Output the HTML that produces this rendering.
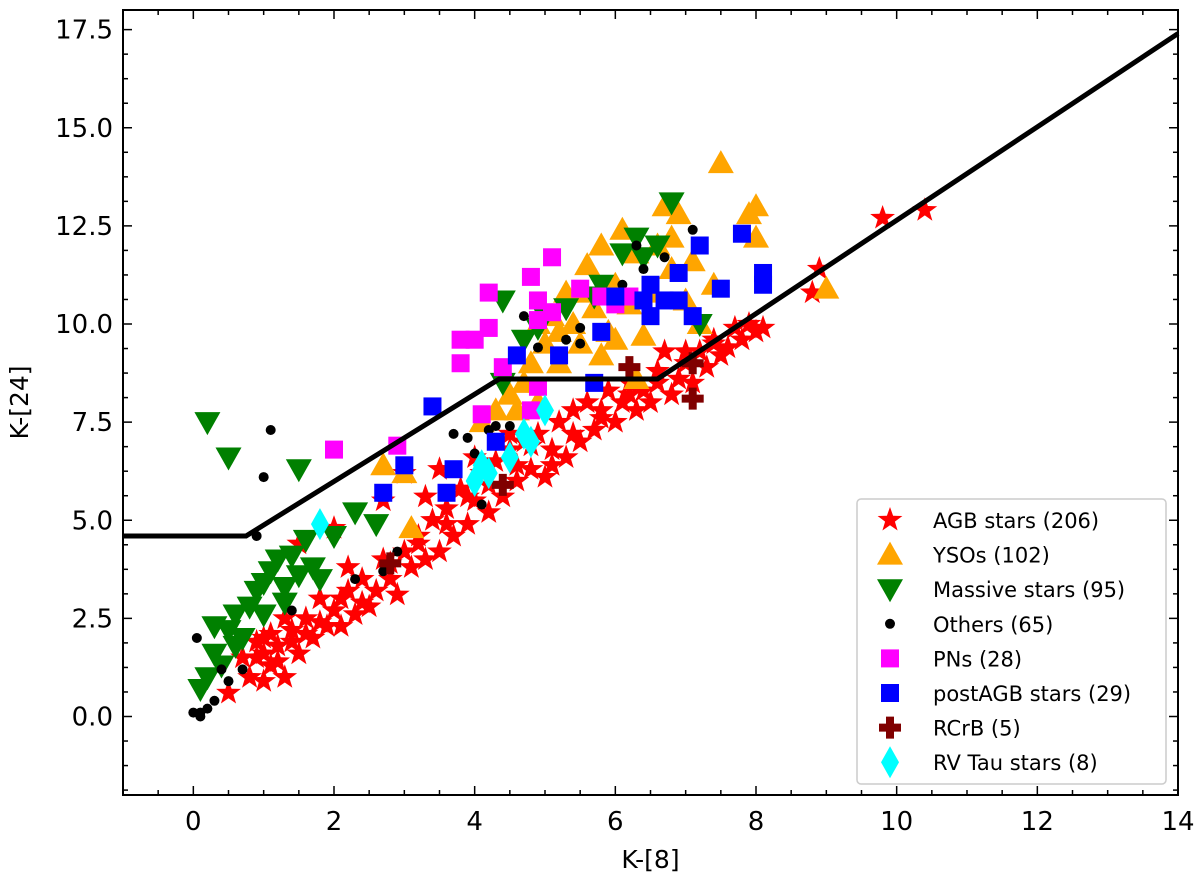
<!DOCTYPE html>
<html><head><meta charset="utf-8"><style>
html,body{margin:0;padding:0;background:#fff;}
svg{display:block;font-family:"DejaVu Sans","Liberation Sans",sans-serif;}
</style></head><body>
<svg id="chart" width="1200" height="878" viewBox="0 0 1200 878">
<g id="marks"></g>
<g id="axes"></g>
</svg>
<script>
const agbX=[0.5,0.8,0.9,1.0,1.1,1.2,1.3,1.4,1.5,1.6,1.7,1.8,1.9,2.0,2.1,2.2,2.3,2.4,2.5,2.6,2.7,2.8,2.9,3.0,3.1,3.2,3.3,3.4,3.5,3.6,3.7,3.8,3.9,4.0,4.1,4.2,4.3,4.4,4.5,4.6,4.7,4.8,4.9,5.0,5.1,5.2,5.3,5.4,5.5,5.6,5.7,5.8,5.9,6.0,6.1,6.2,6.3,6.4,6.5,6.6,6.7,6.8,6.9,7.0,7.1,7.2,7.3,7.4,7.5,7.6,7.7,7.8,7.9,8.0,8.1,8.8,8.9,9.8,10.4,1.5,2.0,2.7,3.0,3.5,2.2,0.7,1.0,1.0,1.1,1.2,1.3,1.4,0.9,1.6,1.8,2.1,2.4,2.8,3.2,3.6,3.9,4.2,4.6,4.8,5.1,5.4,5.8,6.2,6.6,7.0,7.4,3.3,4.0,4.5];
const agbY=[0.6,1.0,1.5,2.0,1.3,1.8,1.0,2.2,1.6,2.5,2.0,3.0,2.3,2.7,2.3,3.2,2.6,3.5,2.8,3.2,4.0,3.5,3.1,4.2,3.8,4.6,4.0,5.0,4.2,5.3,4.6,5.8,4.9,5.5,6.2,5.2,6.5,5.6,6.8,6.0,7.0,6.3,7.2,6.1,6.8,7.5,6.6,7.8,7.0,8.0,7.3,7.6,8.3,7.5,8.0,8.5,7.8,8.3,8.0,8.5,9.3,8.2,8.6,9.0,8.5,9.3,8.9,9.6,9.2,9.4,9.9,9.6,10.0,9.8,9.9,10.8,11.4,12.7,12.9,4.4,4.8,5.5,6.2,6.3,3.8,1.5,0.9,1.6,2.1,1.4,2.5,1.9,1.9,2.1,2.4,3.0,2.9,3.9,4.4,4.9,5.6,5.9,6.4,6.9,6.4,7.2,7.8,8.2,8.8,9.3,9.5,5.6,6.6,7.2];
const ysoX=[2.7,3.0,3.1,4.1,4.3,4.5,4.6,4.7,4.8,4.9,5.0,5.1,5.2,5.3,5.4,5.5,5.6,5.7,5.8,5.9,6.0,6.1,6.2,6.3,6.4,6.5,6.6,6.7,6.8,6.9,7.0,7.1,7.2,7.4,7.5,7.9,8.0,8.0,9.0,6.8,5.5,4.9,5.8,6.3,6.0,5.2];
const ysoY=[6.4,6.2,4.8,7.5,7.8,8.2,7.8,8.5,9.0,10.0,9.5,10.2,9.8,10.8,10.0,9.5,11.5,10.4,12.0,9.8,11.0,12.4,10.5,11.8,9.7,10.8,12.0,13.0,11.4,12.8,10.6,11.6,10.0,11.0,14.1,12.8,12.2,13.0,10.9,12.2,10.8,8.0,9.2,8.6,9.6,9.0];
const msX=[0.2,0.5,1.5,0.1,0.2,0.3,0.4,0.5,0.6,0.7,0.8,0.9,1.0,1.1,1.2,1.3,1.4,1.5,1.6,1.7,1.8,2.0,2.3,2.6,4.4,4.7,4.9,5.0,5.3,5.8,6.1,6.3,6.4,6.6,6.8,7.2,5.7,4.4,0.3,0.6,1.0,1.3];
const msY=[7.5,6.6,6.3,0.7,1.0,1.6,1.3,2.2,2.6,2.0,2.8,3.2,2.6,3.7,4.0,3.3,4.1,3.6,4.5,3.8,3.5,4.6,5.2,4.9,10.6,9.6,9.9,10.2,10.4,11.0,11.8,12.2,11.7,12.0,13.1,10.0,10.7,8.5,2.3,1.8,3.4,2.9];
const othX=[0,0.05,0.1,0.2,0.3,0.4,0.5,0.7,0.9,1.0,1.1,1.4,2.3,2.7,3.7,3.9,4.0,4.1,4.2,4.3,4.5,4.7,4.9,5.3,5.5,5.5,6.1,6.3,6.4,6.7,7.1,2.9,0.1];
const othY=[0.1,2.0,0.0,0.2,0.4,1.2,0.9,1.2,4.6,6.1,7.3,2.7,3.5,3.7,7.2,7.1,6.7,5.4,7.3,7.4,7.4,10.2,9.4,9.6,9.9,9.5,11.0,12.0,11.4,11.7,12.4,4.2,0.1];
const pnX=[2.0,2.9,3.8,3.8,4.0,4.1,4.2,4.2,4.4,4.8,4.9,4.9,4.9,5.1,5.1,5.5,5.8,6.0,6.2,4.8];
const pnY=[6.8,6.9,9.0,9.6,9.6,7.7,10.8,9.9,8.9,11.2,10.6,10.1,8.4,11.7,10.3,10.9,10.7,10.5,10.7,7.8];
const paX=[2.7,3.0,3.4,3.6,3.7,4.3,4.6,5.2,5.7,5.8,6.0,6.4,6.5,6.5,6.9,6.9,7.1,7.2,7.5,7.8,8.1,8.1,6.7];
const paY=[5.7,6.4,7.9,5.7,6.3,7.0,9.2,9.2,8.5,9.8,10.7,10.6,11.0,10.2,11.3,10.6,10.2,12.0,10.9,12.3,11.3,11.0,10.6];
const rcX=[2.8,4.4,6.2,7.1,7.1];
const rcY=[3.9,5.9,8.9,9.0,8.1];
const rvX=[1.8,4.0,4.2,4.5,4.7,4.8,5.0,4.1];
const rvY=[4.9,6.0,6.2,6.6,7.2,7.0,7.8,6.4];
const lineX=[-1,0.75,4.35,6.6,14];
const lineY=[4.6,4.6,8.6,8.6,17.4];
const xTicks=[0,2,4,6,8,10,12,14];
const yTicks=[0.0,2.5,5.0,7.5,10.0,12.5,15.0,17.5];

const L=123,R=1178,T=10,B=795,XMIN=-1,XMAX=14,YMIN=-2,YMAX=18;
const sx=v=>L+(v-XMIN)/(XMAX-XMIN)*(R-L);
const sy=v=>B-(v-YMIN)/(YMAX-YMIN)*(B-T);
const NS="http://www.w3.org/2000/svg";
const marks=document.getElementById('marks');
const axes=document.getElementById('axes');
function mk(tag,attrs,parent){const e=document.createElementNS(NS,tag);for(const k in attrs)e.setAttribute(k,attrs[k]);parent.appendChild(e);return e;}
function starPts(cx,cy,r){let p=[];for(let i=0;i<10;i++){const a=-Math.PI/2+i*Math.PI/5;const rr=i%2?r*0.4:r;p.push((cx+rr*Math.cos(a)).toFixed(1)+','+(cy+rr*Math.sin(a)).toFixed(1));}return p.join(' ');}
function shape(kind,cx,cy,parent){
  let e;
  if(kind==='star')e=mk('polygon',{points:starPts(cx,cy,13),fill:'#ff0000'},parent);
  else if(kind==='up')e=mk('polygon',{points:`${cx},${cy-13} ${cx+13},${cy+10} ${cx-13},${cy+10}`,fill:'#ffa500'},parent);
  else if(kind==='down')e=mk('polygon',{points:`${cx},${cy+13} ${cx+13},${cy-10} ${cx-13},${cy-10}`,fill:'#008000'},parent);
  else if(kind==='dot')e=mk('circle',{cx:cx,cy:cy,r:5,fill:'#000'},parent);
  else if(kind==='pn')e=mk('rect',{x:cx-9,y:cy-9,width:18,height:18,fill:'#ff00ff'},parent);
  else if(kind==='pa')e=mk('rect',{x:cx-9,y:cy-9,width:18,height:18,fill:'#0000ff'},parent);
  else if(kind==='plus')e=mk('path',{d:`M${cx-4},${cy-11}h8v7h7v8h-7v7h-8v-7h-7v-8h7z`,fill:'#800000'},parent);
  else if(kind==='dia')e=mk('polygon',{points:`${cx},${cy-16} ${cx+9},${cy} ${cx},${cy+16} ${cx-9},${cy}`,fill:'#00ffff'},parent);
  return e;
}
const series=[['star',agbX,agbY,'agb'],['up',ysoX,ysoY,'yso'],['down',msX,msY,'massive'],['dot',othX,othY,'others'],['pn',pnX,pnY,'pn'],['pa',paX,paY,'postagb'],['plus',rcX,rcY,'rcrb'],['dia',rvX,rvY,'rvtau']];
series.forEach(([k,xs,ys,n])=>{
  const g=mk('g',{},marks);
  
  
  xs.forEach((x,i)=>{
    const e=shape(k,sx(x),sy(ys[i]),g);
    
    
  });
});
const bl=mk('polyline',{points:lineX.map((x,i)=>sx(x)+','+sy(lineY[i])).join(' '),fill:'none',stroke:'#000','stroke-width':5},marks);


const fr=mk('rect',{x:L,y:T,width:R-L,height:B-T,fill:'none',stroke:'#000','stroke-width':2},axes);


for(let v=-1;v<=14.001;v+=0.5){
  const major=Math.abs(v-Math.round(v))<1e-6&&Math.round(v)%2===0;
  const len=major?9:5;const x=sx(v);
  mk('line',{x1:x,y1:B,x2:x,y2:B-len,stroke:'#000','stroke-width':1.5},axes);
  mk('line',{x1:x,y1:T,x2:x,y2:T+len,stroke:'#000','stroke-width':1.5},axes);
}
xTicks.forEach(v=>{const t=mk('text',{x:sx(v),y:B+35,'text-anchor':'middle','font-size':26},axes);t.textContent=v;

});
for(let v=-1.875;v<=18.001;v+=0.625){
  const major=Math.abs(v/2.5-Math.round(v/2.5))<1e-6;
  const len=major?9:5;const y=sy(v);
  mk('line',{x1:L,y1:y,x2:L+len,y2:y,stroke:'#000','stroke-width':1.5},axes);
  mk('line',{x1:R,y1:y,x2:R-len,y2:y,stroke:'#000','stroke-width':1.5},axes);
}
yTicks.forEach(v=>{const t=mk('text',{x:L-10,y:sy(v)+9,'text-anchor':'end','font-size':26},axes);t.textContent=v.toFixed(1);

});
const xt=mk('text',{x:(L+R)/2,y:868,'text-anchor':'middle','font-size':25},axes);xt.textContent='K-[8]';


const yt=mk('text',{x:0,y:0,'text-anchor':'middle','font-size':25,transform:`translate(28,${(T+B)/2}) rotate(-90)`},axes);yt.textContent='K-[24]';


const leg=mk('g',{},axes);


mk('rect',{x:857,y:499,width:309,height:285,rx:4,fill:'#fff','fill-opacity':0.85,stroke:'#ccc','stroke-width':1.5},leg);
const labels=['AGB stars (206)','YSOs (102)','Massive stars (95)','Others (65)','PNs (28)','postAGB stars (29)','RCrB (5)','RV Tau stars (8)'];
const kinds=['star','up','down','dot','pn','pa','plus','dia'];
labels.forEach((s,i)=>{
  const y=520+i*34.6;
  const g=mk('g',{},leg);
  
  
  shape(kinds[i],890,y,g);
  const t=mk('text',{x:933,y:y+8,'font-size':21},g);t.textContent=s;
});
</script>
</body></html>
